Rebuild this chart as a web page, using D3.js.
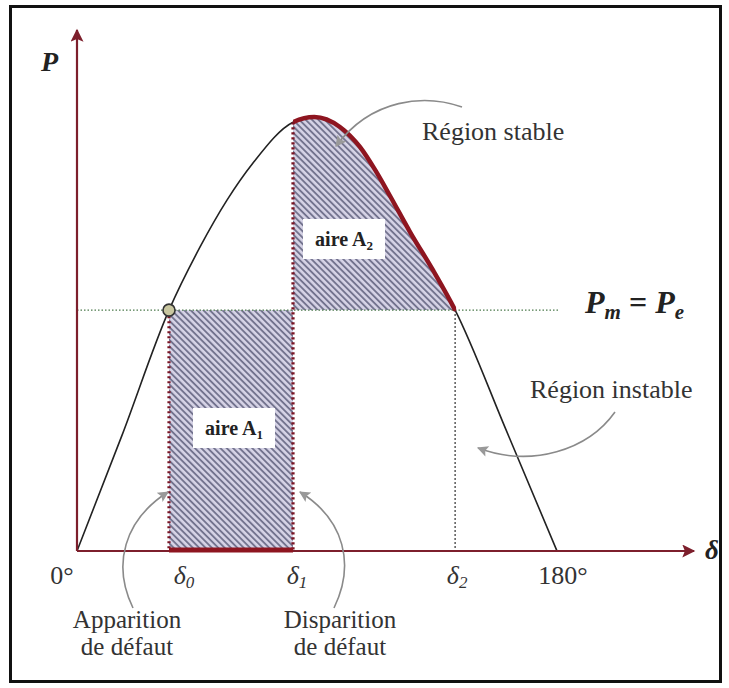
<!DOCTYPE html>
<html>
<head>
<meta charset="utf-8">
<script src="https://cdn.jsdelivr.net/npm/d3@7"></script>
<style>
body { margin: 0; background: #fff; }
</style>
</head>
<body>
<div id="chart"></div>
<script>
// P(delta) curve: delta in degrees, P relative to Pmax
var curveDelta = [0, 16.9, 34.5, 46.1, 56.3, 66, 81, 89, 98.6, 106.1, 111.8, 117.4, 124.9, 133.5, 141.8, 160.9, 180];
var curvePower = [0, 0.267, 0.555, 0.70, 0.809, 0.894, 0.988, 1.0, 0.977, 0.931, 0.878, 0.818, 0.735, 0.647, 0.555, 0.279, 0];

// angles and power level
var delta0 = 34.5, delta1 = 81, delta2 = 141.8;
var powerMech = 0.555;
var powerAtDelta1 = 0.988;

var tickValues = [0, delta0, delta1, delta2, 180];
var tickLabels = [["0°", ""], ["δ", "0"], ["δ", "1"], ["δ", "2"], ["180°", ""]];
var tickShift = [-15, 15, 4, 2, 6];   // layout: label offset from tick

var width = 729, height = 688;
var red = "#8e1520", axisRed = "#7d1f2c", grey = "#8a8a8a";
var serif = "'Liberation Serif', 'Times New Roman', 'DejaVu Serif', serif";

var x = d3.scaleLinear().domain([0, 180]).range([77, 557]);
var y = d3.scaleLinear().domain([0, 1]).range([551, 117]);

var pts = curveDelta.map(function (d, i) { return [d, curvePower[i]]; });

var svg = d3.select("#chart").append("svg")
    .attr("width", width)
    .attr("height", height)
    .attr("font-family", serif)
    .style("font-family", serif);

var defs = svg.append("defs");

// hatch fill
var pat = defs.append("pattern")
    .attr("id", "hatch")
    .attr("patternUnits", "userSpaceOnUse")
    .attr("width", 4.5).attr("height", 4.5)
    .attr("patternTransform", "rotate(-45)");
pat.append("rect").attr("width", 4.5).attr("height", 4.5).attr("fill", "#d6d3e6");
pat.append("line").attr("x1", 1).attr("y1", 0).attr("x2", 1).attr("y2", 4.5)
    .attr("stroke", "#6e6e8a").attr("stroke-width", 1.8);

function marker(id, color, w, h) {
    defs.append("marker")
        .attr("id", id)
        .attr("markerUnits", "userSpaceOnUse")
        .attr("viewBox", "0 0 10 10")
        .attr("refX", 9).attr("refY", 5)
        .attr("markerWidth", w).attr("markerHeight", h)
        .attr("orient", "auto")
        .append("path").attr("d", "M0,0L10,5L0,10L2,5Z").attr("fill", color);
}
marker("axisArrow", axisRed, 17, 13);
marker("greyArrow", "#999", 14, 11);

defs.append("clipPath").attr("id", "clipA2")
    .append("rect")
    .attr("x", x(delta1)).attr("y", 0)
    .attr("width", x(delta2) - x(delta1)).attr("height", y(powerMech));

defs.append("clipPath").attr("id", "clipRed")
    .append("rect")
    .attr("x", x(delta1)).attr("y", 0)
    .attr("width", x(delta2) - x(delta1) + 1).attr("height", y(powerMech) + 1);

var line = d3.line()
    .x(function (d) { return x(d[0]); })
    .y(function (d) { return y(d[1]); })
    .curve(d3.curveMonotoneX);

var area = d3.area()
    .x(function (d) { return x(d[0]); })
    .y0(y(powerMech))
    .y1(function (d) { return y(d[1]); })
    .curve(d3.curveMonotoneX);

// frame
svg.append("rect")
    .attr("x", 10.5).attr("y", 6.5)
    .attr("width", 710).attr("height", 675)
    .attr("fill", "none").attr("stroke", "#111").attr("stroke-width", 3);

// area A1
svg.append("rect")
    .attr("x", x(delta0)).attr("y", y(powerMech))
    .attr("width", x(delta1) - x(delta0)).attr("height", y(0) - y(powerMech))
    .attr("fill", "url(#hatch)");

// area A2
svg.append("path")
    .datum(pts)
    .attr("d", area)
    .attr("clip-path", "url(#clipA2)")
    .attr("fill", "url(#hatch)");

// Pm = Pe level
svg.append("line")
    .attr("x1", x(0)).attr("x2", x(180) + 1)
    .attr("y1", y(powerMech)).attr("y2", y(powerMech))
    .attr("stroke", "#4c7a4c").attr("stroke-width", 1.2)
    .attr("stroke-dasharray", "1.5,2");

// delta2 drop line
svg.append("line")
    .attr("x1", x(delta2)).attr("x2", x(delta2))
    .attr("y1", y(powerMech)).attr("y2", y(0))
    .attr("stroke", "#222").attr("stroke-width", 1.5)
    .attr("stroke-dasharray", "1.5,2.5");

// P(delta) curve
svg.append("path")
    .datum(pts)
    .attr("d", line)
    .attr("fill", "none").attr("stroke", "#222").attr("stroke-width", 1.6);

svg.append("path")
    .datum(pts)
    .attr("d", line)
    .attr("clip-path", "url(#clipRed)")
    .attr("fill", "none").attr("stroke", red).attr("stroke-width", 4.5)
    .attr("stroke-linecap", "round");

// red dotted verticals at delta0 and delta1
[[delta0, powerMech], [delta1, powerAtDelta1]].forEach(function (d, i) {
    svg.append("line")
        .attr("x1", x(d[0])).attr("x2", x(d[0]))
        .attr("y1", y(d[1]) + (i === 0 ? 6 : 0)).attr("y2", y(0))
        .attr("stroke", "#7a1424").attr("stroke-width", 3.2)
        .attr("stroke-dasharray", "2.2,2.8");
});

// axes
svg.append("line")
    .attr("x1", x(0)).attr("y1", y(0))
    .attr("x2", x(0)).attr("y2", 30)
    .attr("stroke", axisRed).attr("stroke-width", 2.2)
    .attr("marker-end", "url(#axisArrow)");
svg.append("line")
    .attr("x1", x(0)).attr("y1", y(0))
    .attr("x2", 694).attr("y2", y(0))
    .attr("stroke", axisRed).attr("stroke-width", 2.2)
    .attr("marker-end", "url(#axisArrow)");

// fault duration on axis
svg.append("line")
    .attr("x1", x(delta0)).attr("x2", x(delta1))
    .attr("y1", y(0) - 1).attr("y2", y(0) - 1)
    .attr("stroke", red).attr("stroke-width", 5);

// operating point
svg.append("circle")
    .attr("cx", x(delta0)).attr("cy", y(powerMech)).attr("r", 6)
    .attr("fill", "#c9c7a0").attr("stroke", "#333").attr("stroke-width", 1.6);

// axis titles
svg.append("text").attr("x", 41).attr("y", 71)
    .style("font-size", "28px").style("font-weight", "bold").style("font-style", "italic")
    .attr("fill", "#222").text("P");
svg.append("text").attr("x", 705).attr("y", 559)
    .style("font-size", "27px").style("font-weight", "bold").style("font-style", "italic")
    .attr("fill", "#222").text("δ");

// tick labels
var ticks = svg.selectAll("text.tick")
    .data(tickValues)
    .enter().append("text")
    .attr("class", "tick")
    .attr("x", function (d, i) { return x(d) + tickShift[i]; })
    .attr("y", 584)
    .attr("text-anchor", "middle")
    .attr("fill", "#333")
    .style("font-size", "26px");
ticks.each(function (d, i) {
    var t = d3.select(this), lab = tickLabels[i];
    if (lab[1] === "") {
        t.text(lab[0]);
    } else {
        t.append("tspan").style("font-style", "italic").text(lab[0]);
        t.append("tspan").style("font-style", "italic").style("font-size", "17px")
            .attr("dy", 4).text(lab[1]);
    }
});

// Pm = Pe label
var pm = svg.append("text").attr("x", 585).attr("y", 313)
    .attr("fill", "#222")
    .style("font-size", "32px").style("font-weight", "bold");
pm.append("tspan").style("font-style", "italic").text("P");
pm.append("tspan").style("font-style", "italic").style("font-size", "21px").attr("dy", 6).text("m");
pm.append("tspan").attr("dy", -6).text(" = ");
pm.append("tspan").style("font-style", "italic").text("P");
pm.append("tspan").style("font-style", "italic").style("font-size", "21px").attr("dy", 6).text("e");

// area boxes
function areaBox(cx, cy, sub) {
    svg.append("rect")
        .attr("x", cx - 41).attr("y", cy - 20)
        .attr("width", 82).attr("height", 40)
        .attr("fill", "#fff");
    var t = svg.append("text").attr("x", cx).attr("y", cy + 7)
        .attr("text-anchor", "middle").attr("fill", "#222")
        .style("font-size", "20px").style("font-weight", "bold");
    t.append("tspan").text("aire A");
    t.append("tspan").style("font-size", "13px").attr("dy", 4).text(sub);
}
areaBox((x(delta0) + x(delta1)) / 2 + 3, 428, "1");
areaBox(344, 239, "2");

// region labels
svg.append("text").attr("x", 422).attr("y", 140).attr("fill", "#333")
    .style("font-size", "26px").text("Région stable");
svg.append("text").attr("x", 530).attr("y", 398).attr("fill", "#333")
    .style("font-size", "26px").text("Région instable");

// fault labels
var faultLabels = [["Apparition", "de défaut"], ["Disparition", "de défaut"]];
var faultX = [127, 340];
faultLabels.forEach(function (lines, i) {
    var t = svg.append("text").attr("x", faultX[i]).attr("y", 628)
        .attr("text-anchor", "middle").attr("fill", "#333").style("font-size", "25px");
    t.append("tspan").attr("x", faultX[i]).text(lines[0]);
    t.append("tspan").attr("x", faultX[i]).attr("dy", 27).text(lines[1]);
});

// grey pointer arrows
var arrows = [
    "M462,107 C425,94 372,98 336,146",
    "M615,412 C588,450 532,468 478,448",
    "M133,608 C112,565 124,520 168,492",
    "M334,608 C355,565 345,520 300,492"
];
svg.selectAll("path.pointer")
    .data(arrows)
    .enter().append("path")
    .attr("class", "pointer")
    .attr("d", function (d) { return d; })
    .attr("fill", "none")
    .attr("stroke", grey).attr("stroke-width", 1.6)
    .attr("marker-end", "url(#greyArrow)");
</script>
</body>
</html>
